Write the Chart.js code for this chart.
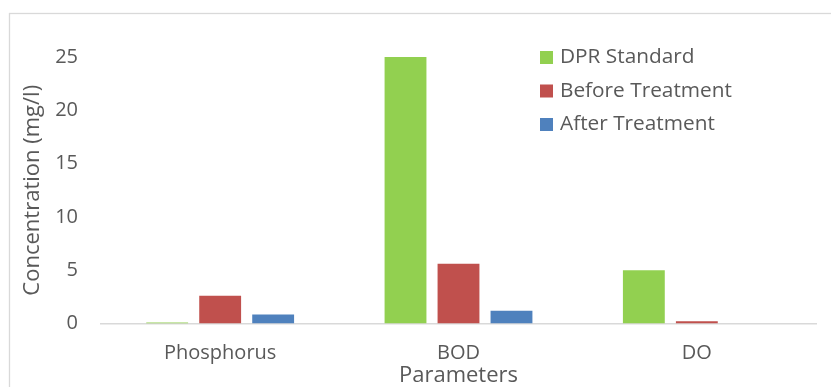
<!DOCTYPE html>
<html>
<head>
<meta charset="utf-8">
<script src="https://cdn.jsdelivr.net/npm/chart.js@4.4.1/dist/chart.umd.min.js"></script>
<style>
  html, body { margin: 0; padding: 0; background: #ffffff; }
  #wrap { position: relative; width: 831px; height: 387px; }
</style>
</head>
<body>
<div id="wrap"><canvas id="chart" width="831" height="387"></canvas></div>
<script>
// Water quality parameters (mg/l)
const categories = ['Phosphorus', 'BOD', 'DO'];
const seriesNames = ['DPR Standard', 'Before Treatment', 'After Treatment'];
const dprStandard = [0.1, 25, 5];
const beforeTreatment = [2.6, 5.6, 0.2];
const afterTreatment = [0.85, 1.2, 0];
const yTicks = [0, 5, 10, 15, 20, 25];

const colors = ['#92D050', '#C0504D', '#4F81BD'];
const textColor = '#595959';
const FONT = "'Open Sans', sans-serif";

// Outer frame around the whole chart
const framePlugin = {
  id: 'frame',
  beforeDraw(chart) {
    const ctx = chart.ctx;
    ctx.save();
    ctx.strokeStyle = '#d9d9d9';
    ctx.lineWidth = 1.3;
    ctx.strokeRect(9.5, 13.5, 900, 500);
    ctx.restore();
  }
};

// Legend drawn inside the plot, stacked at the upper right
const insideLegend = {
  id: 'insideLegend',
  afterDraw(chart) {
    const ctx = chart.ctx;
    const x0 = 540, y0 = 57.5, rowH = 33.5, box = 13;
    ctx.save();
    ctx.font = '20.8px ' + FONT;
    ctx.textBaseline = 'middle';
    ctx.textAlign = 'left';
    chart.data.datasets.forEach((ds, i) => {
      const y = y0 + i * rowH;
      ctx.fillStyle = ds.backgroundColor;
      ctx.fillRect(x0, y - box / 2, box, box);
      ctx.fillStyle = textColor;
      ctx.fillText(ds.label, x0 + 20, y);
    });
    ctx.restore();
  }
};

const datasets = [dprStandard, beforeTreatment, afterTreatment].map((vals, i) => ({
  label: seriesNames[i],
  data: vals,
  backgroundColor: colors[i],
  borderWidth: 0,
  categoryPercentage: 0.667,
  barPercentage: 0.79
}));

new Chart(document.getElementById('chart'), {
  type: 'bar',
  data: { labels: categories, datasets },
  options: {
    responsive: false,
    animation: false,
    layout: { padding: { top: 57, right: 15, left: 0, bottom: 0 } },
    plugins: {
      legend: { display: false },
      tooltip: { enabled: false }
    },
    scales: {
      x: {
        grid: { display: false, drawTicks: false },
        border: { display: true, color: '#d9d9d9', width: 1.5 },
        ticks: { color: textColor, font: { family: FONT, size: 20 }, padding: 18 },
        title: {
          display: true, text: 'Parameters', color: textColor,
          font: { family: FONT, size: 22, lineHeight: 1 }, padding: 0
        },
        afterFit(scale) { scale.height = 63.5; }
      },
      y: {
        min: 0, max: 25,
        afterBuildTicks(scale) { scale.ticks = yTicks.map(v => ({ value: v })); },
        grid: { display: false, drawTicks: false },
        border: { display: false },
        ticks: { color: textColor, font: { family: FONT, size: 20 }, padding: 23 },
        title: {
          display: true, text: 'Concentration (mg/l)', color: textColor,
          font: { family: FONT, size: 22, lineHeight: 1 }, padding: { top: 22, bottom: 0 }
        },
        afterFit(scale) { scale.width = 101; }
      }
    }
  },
  plugins: [framePlugin, insideLegend]
});
</script>
</body>
</html>
